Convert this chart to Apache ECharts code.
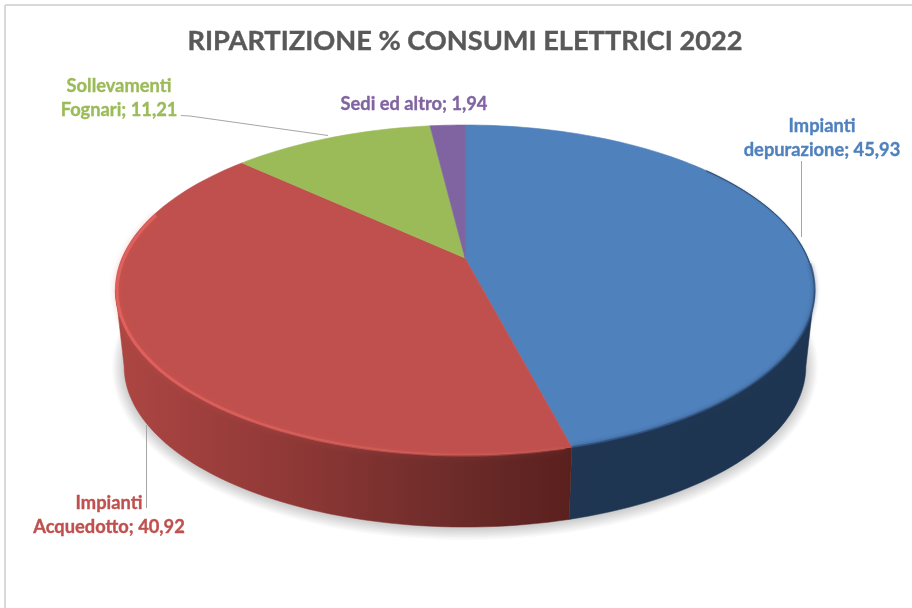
<!DOCTYPE html>
<html>
<head>
<meta charset="utf-8">
<style>
  html, body { margin: 0; padding: 0; background: #fff; }
  #echarts { width: 912px; height: 608px; }
</style>
</head>
<body>
<div id="echarts"></div>
<script src="https://cdn.jsdelivr.net/npm/echarts@6/dist/echarts.min.js"></script>
<script>
var categories = ['Impianti\ndepurazione', 'Impianti\nAcquedotto', 'Sollevamenti\nFognari', 'Sedi ed altro'];
var values = [45.93, 40.92, 11.21, 1.94];
var colors = ['#4f81bd', '#c0504d', '#9bbb59', '#8064a2'];
var titleText = 'RIPARTIZIONE % CONSUMI ELETTRICI 2022';

var myChart = echarts.init(document.getElementById('echarts'));

// prospettiva del disco: il centro della torta non coincide col centro dell'ellisse
var cx = 465, cy = 258, rx = 343, ry = 158.8, persp = -0.194;
var depth = 77, shrink = 0.975;
// angoli dove il disco tocca il bordo destro e sinistro: la parete si vede solo tra i due
var sideRight = Math.acos(persp) * 180 / Math.PI;
var sideLeft = 360 - sideRight;

function point(deg, dy, scale) {
  var a = deg * Math.PI / 180;
  var u = Math.sin(a), v = -Math.cos(a);
  var w = 1 + persp * v;
  return [cx + rx * scale * u / w, cy + dy + ry * scale * v / w];
}

function arc(from, to, dy, scale) {
  var pts = [];
  var n = Math.max(2, Math.ceil(Math.abs(to - from) / 1.5));
  for (var i = 0; i <= n; i++) {
    pts.push(point(from + (to - from) * i / n, dy, scale));
  }
  return pts;
}

// angoli di inizio/fine di ogni fetta, dai valori
var total = values.reduce(function (a, b) { return a + b; }, 0);
function sliceAngles(index) {
  var before = 0;
  for (var i = 0; i < index; i++) before += values[i];
  return [before / total * 360, (before + values[index]) / total * 360];
}

var wallFill = {
  0: new echarts.graphic.LinearGradient(570, 0, 815, 0, [
    { offset: 0, color: '#1f3552' }, { offset: 1, color: '#1e3552' }], true),
  1: new echarts.graphic.LinearGradient(115, 0, 570, 0, [
    { offset: 0, color: '#ad4643' }, { offset: 0.4, color: '#8e3836' },
    { offset: 0.75, color: '#6c2b29' }, { offset: 1, color: '#5a201e' }], true),
  2: '#6f8740',
  3: '#5c4875'
};

// ombra morbida: tratti grigi spessi lungo il bordo inferiore, dal piu' largo e chiaro
function shadowLines() {
  var lines = [];
  for (var i = 8; i >= 1; i--) {
    var g = 202 + i * 6;
    lines.push({
      type: 'polyline',
      shape: { points: arc(60, 300, depth + 1, shrink) },
      style: { fill: null, stroke: 'rgb(' + g + ',' + g + ',' + g + ')', lineWidth: i * 3, lineJoin: 'round' }
    });
  }
  return lines;
}

function renderWall(params) {
  var ang = sliceAngles(params.dataIndex);
  var from = Math.max(ang[0], sideRight), to = Math.min(ang[1], sideLeft);
  var children = params.dataIndex === 0 ? shadowLines() : [];
  if (from < to) {
    var fill = wallFill[params.dataIndex];
    children.push({
      type: 'polygon',
      shape: { points: arc(from, to, 0, 1).concat(arc(to, from, depth, shrink)) },
      style: { fill: fill, stroke: fill, lineWidth: 0.5 }
    });
  }
  return { type: 'group', children: children };
}

function renderTop(params) {
  var ang = sliceAngles(params.dataIndex);
  var color = colors[params.dataIndex];
  var pts = [[cx, cy]].concat(arc(ang[0], ang[1], 0, 1));
  return { type: 'polygon', shape: { points: pts }, style: { fill: color, stroke: color, lineWidth: 0.6 } };
}

// bordo smussato: chiaro sul rosso, scuro sul blu
function renderBevel(params) {
  var ang = sliceAngles(params.dataIndex);
  if (params.dataIndex === 1) {
    var rim = new echarts.graphic.LinearGradient(115, 0, 570, 0, [
      { offset: 0, color: 'rgba(228,98,94,0.9)' }, { offset: 0.45, color: 'rgba(222,98,94,0.65)' },
      { offset: 1, color: 'rgba(205,90,86,0.35)' }], true);
    return {
      type: 'group',
      children: [{
        type: 'polyline',
        shape: { points: arc(ang[0] + 1, 287, 1, 0.995) },
        style: { fill: null, stroke: rim, lineWidth: 3, shadowBlur: 6, shadowColor: 'rgba(214,90,86,0.5)' }
      }]
    };
  }
  if (params.dataIndex === 0) {
    return {
      type: 'group',
      children: [{
        type: 'polyline',
        shape: { points: arc(52, 92, 0, 0.999) },
        style: { fill: null, stroke: 'rgba(30,53,82,0.75)', lineWidth: 1, shadowBlur: 2, shadowColor: 'rgba(30,53,82,0.6)' }
      }, {
        type: 'polyline',
        shape: { points: arc(92, ang[1], 0, 1) },
        style: { fill: null, stroke: 'rgba(44,76,118,0.75)', lineWidth: 2, shadowBlur: 4, shadowColor: 'rgba(30,53,82,0.8)' }
      }]
    };
  }
  return { type: 'group', children: [] };
}

function labelText(i) {
  return categories[i] + '; ' + String(values[i]).replace('.', ',');
}

function dataLabel(i, x, y) {
  return {
    type: 'text', x: x, y: y, z: 20,
    style: {
      text: labelText(i), fill: colors[i], align: 'center', verticalAlign: 'middle',
      font: 'bold 18.3px Lato', lineHeight: 24, stroke: colors[i], lineWidth: 0.35
    }
  };
}

function leader(points) {
  return {
    type: 'polyline', z: 10,
    shape: { points: points },
    style: { fill: null, stroke: '#a6a6a6', lineWidth: 1 }
  };
}

var seriesData = values.map(function (v, i) { return { name: categories[i], value: v }; });

var option = {
  backgroundColor: '#ffffff',
  animation: false,
  tooltip: { show: false },
  title: {
    text: titleText,
    left: 460,
    top: 23,
    textAlign: 'center',
    textStyle: { color: '#595959', fontFamily: 'Lato', fontWeight: 'bold', fontSize: 27.2, textBorderColor: '#595959', textBorderWidth: 0.4 }
  },
  graphic: [
    { type: 'line', shape: { x1: 5, y1: 5, x2: 912, y2: 5 }, style: { stroke: '#d9d9d9', lineWidth: 2 } },
    { type: 'line', shape: { x1: 5, y1: 5, x2: 5, y2: 608 }, style: { stroke: '#d9d9d9', lineWidth: 2 } },
    leader([[801.5, 161], [801.5, 237]]),
    leader([[181, 115.5], [190, 116], [328, 135.5]]),
    leader([[146.5, 425], [146.5, 508]]),
    dataLabel(0, 822, 138),
    dataLabel(1, 109, 515),
    dataLabel(2, 119, 98),
    dataLabel(3, 414, 104)
  ],
  series: [
    { type: 'custom', coordinateSystem: 'none', silent: true, z: 2, data: seriesData, renderItem: renderWall },
    { type: 'custom', coordinateSystem: 'none', silent: true, z: 3, data: seriesData, renderItem: renderTop },
    { type: 'custom', coordinateSystem: 'none', silent: true, z: 4, data: seriesData, renderItem: renderBevel }
  ]
};

myChart.setOption(option);
</script>
</body>
</html>
